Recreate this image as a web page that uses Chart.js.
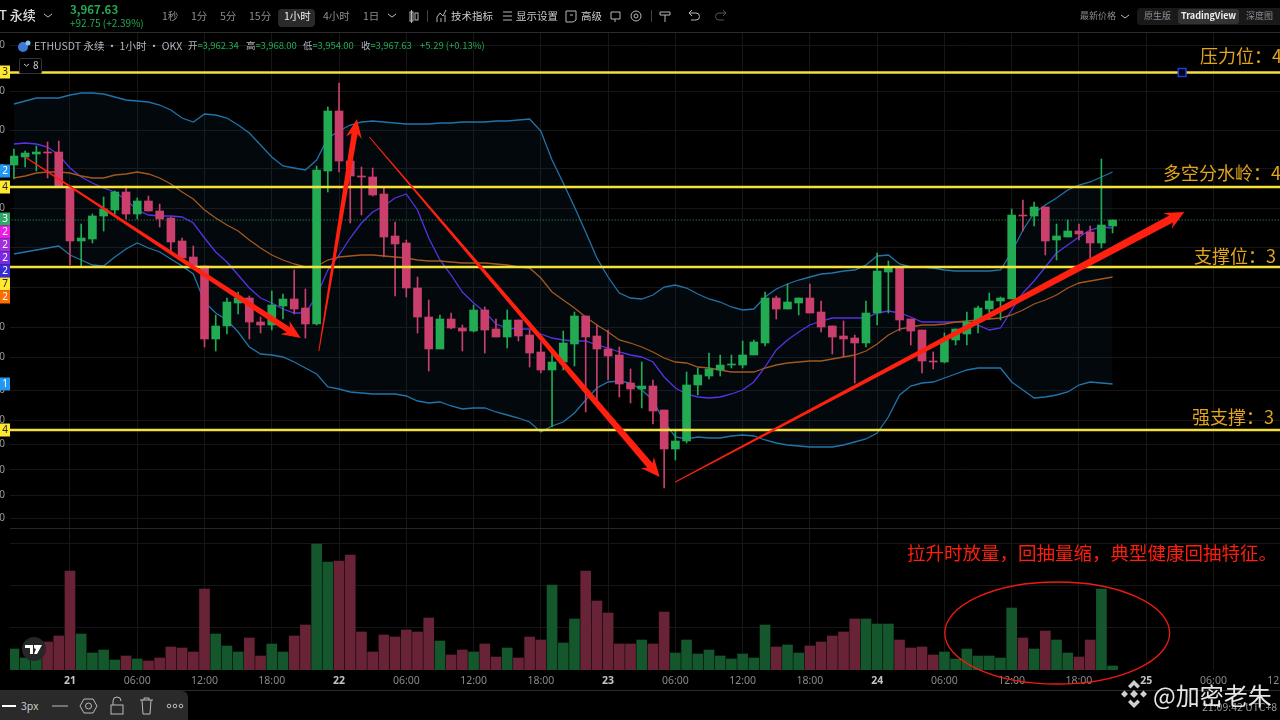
<!DOCTYPE html>
<html>
<head>
<meta charset="utf-8">
<title>ETHUSDT</title>
<script src="https://cdn.jsdelivr.net/npm/chart.js@4/dist/chart.umd.min.js"></script>
<style>
html,body{margin:0;padding:0;width:1280px;height:720px;overflow:hidden;background:#000}
body{position:relative;font-family:"Noto Sans CJK SC","Noto Sans",sans-serif;color:#b2b5be}
canvas{position:absolute;left:0;top:0}
.t{position:absolute;white-space:nowrap;transform:translateY(-50%);font-size:10.5px;line-height:1.2}
.g{color:#22ab53}
.dim{color:#8b8e96}
.note{font-size:18px;color:#e2a51b}
.box{position:absolute}
svg{position:absolute;overflow:visible}
</style>
</head>
<body>
<canvas id="chart" width="1290" height="720"></canvas>

<!-- top toolbar -->
<div class="box" style="left:0;top:32px;width:1280px;height:1px;background:#2b2b2b"></div>
<div class="box" style="left:0;top:690px;width:1280px;height:1px;background:#2b2b2b"></div>
<span class="t" style="left:-1px;top:15px;font-size:13px;color:#ddd;font-weight:500">T 永续</span>
<span class="t g" style="left:70px;top:10px;font-size:11.5px;font-weight:700">3,967.63</span>
<span class="t g" style="left:70px;top:23px;font-size:10px">+92.75 (+2.39%)</span>
<span class="t dim" style="left:162px;top:16px">1秒</span>
<span class="t dim" style="left:191px;top:16px">1分</span>
<span class="t dim" style="left:220px;top:16px">5分</span>
<span class="t dim" style="left:249px;top:16px">15分</span>
<div class="box" style="left:278px;top:9px;width:37px;height:14px;padding:2px 0;border-radius:4px;background:#2a2a2a"></div>
<span class="t" style="left:284px;top:16px;color:#eee">1小时</span>
<span class="t dim" style="left:323px;top:16px">4小时</span>
<span class="t dim" style="left:363px;top:16px">1日</span>
<span class="t" style="left:451px;top:16px;color:#ccc">技术指标</span>
<span class="t" style="left:516px;top:16px;color:#ccc">显示设置</span>
<span class="t" style="left:581px;top:16px;color:#ccc">高级</span>
<span class="t dim" style="left:1080px;top:16px;font-size:9px">最新价格</span>
<div class="box" style="left:1137px;top:8px;width:143px;height:17px;border-radius:4px 0 0 4px;background:#191919"></div>
<div class="box" style="left:1178px;top:9px;width:61px;height:15px;border-radius:3px;background:#333"></div>
<span class="t dim" style="left:1144px;top:16px;font-size:9px">原生版</span>
<span class="t" style="left:1181px;top:16px;font-size:9px;color:#eee;font-weight:700">TradingView</span>
<span class="t dim" style="left:1246px;top:16px;font-size:9px">深度图</span>
<svg style="left:0;top:0" width="1280" height="32" fill="none" stroke="#b8b8b8" stroke-width="1">
  <path d="M44 14l4 3 4-3M388 14l4 3 4-3M1121 15l4 3 4-3"/>
  <rect x="410" y="12" width="3" height="9"/><rect x="415" y="13" width="3" height="7"/><path d="M411.500 10v13"/>
  <path d="M427.500 10v12M651.500 10v12" stroke="#444"/>
  <path d="M437 22v-5l3-4 3 3 3-6M441 22v-4M445 22v-7"/>
  <path d="M503 12h9M503 16h9M503 20h9"/>
  <path d="M566 11h10v9l-3 2h-7zM570 15h3"/>
  <path d="M611 12h9v7h-9zM615 19v3"/>
  <circle cx="636" cy="16" r="5"/><circle cx="636" cy="16" r="2"/>
  <path d="M660 12h10v3h-10zM665 15v7"/>
  <path d="M690 13h6a3 3 0 0 1 0 7h-5M692 10l-3 3 3 3"/>
  <path d="M725 13h-6a3 3 0 0 0 0 7h5M723 10l3 3-3 3" stroke="#555"/>
</svg>

<!-- legend row -->
<svg style="left:17px;top:40px" width="14" height="14"><circle cx="6" cy="7" r="5" fill="#3f78d8"/><circle cx="11" cy="3" r="2.500" fill="#7fc8f0"/></svg>
<span class="t" style="left:34px;top:46px;font-size:10.500px;color:#b2b5be">ETHUSDT 永续 · 1小时 · OKX</span>
<span class="t" style="left:188px;top:46px;font-size:9.500px;letter-spacing:-.1px">开<span class="g">=3,962.34</span></span>
<span class="t" style="left:246px;top:46px;font-size:9.500px;letter-spacing:-.1px">高<span class="g">=3,968.00</span></span>
<span class="t" style="left:303px;top:46px;font-size:9.500px;letter-spacing:-.1px">低<span class="g">=3,954.00</span></span>
<span class="t" style="left:361px;top:46px;font-size:9.500px;letter-spacing:-.1px">收<span class="g">=3,967.63</span></span>
<span class="t g" style="left:420px;top:46px;font-size:9.500px">+5.29 (+0.13%)</span>
<div class="box" style="left:19px;top:58px;width:21px;height:14px;border:1px solid #333;border-radius:2px;background:#000"></div>
<span class="t" style="left:33px;top:65px;font-size:10px;color:#ccc">8</span>
<svg style="left:0;top:0" width="40" height="72" fill="none" stroke="#ccc"><path d="M24 64l2.500 2 2.500-2"/></svg>

<!-- notes on the chart -->
<span class="t note" style="left:1200px;top:56px">压力位：4</span>
<span class="t note" style="left:1163px;top:173px">多空分水岭：4</span>
<span class="t note" style="left:1194px;top:256px">支撑位：3</span>
<span class="t note" style="left:1192px;top:417px">强支撑：3</span>
<span class="t" style="left:907px;top:552px;font-size:18.500px;color:#ff1d0d">拉升时放量，回抽量缩，典型健康回抽特征。</span>

<!-- tradingview badge -->
<div class="box" style="left:22px;top:637px;width:24px;height:24px;border-radius:12px;background:#262626"></div>
<svg style="left:25px;top:645px" width="18" height="10" fill="#fff"><path d="M0 0h8v9h-3v-6h-5zM9 0h8l-5 9h-3l2-5a2 2 0 0 1-2-2z"/></svg>

<!-- bottom drawing toolbar -->
<div class="box" style="left:0;top:691px;width:188px;height:29px;border-radius:0 6px 0 0;background:#2a2a2a"></div>
<span class="t" style="left:21px;top:706px;font-size:10.500px;color:#ccc">3px</span>
<svg style="left:0;top:691px" width="188" height="29" fill="none" stroke="#bbb" stroke-width="1">
  <path d="M2 15h14" stroke="#fff" stroke-width="2"/>
  <path d="M52 15h16"/>
  <path d="M84 8h9l4 7-4 7h-9l-4-7z"/><circle cx="88.500" cy="15" r="3"/>
  <rect x="111" y="14" width="12" height="9"/><path d="M113 14v-4a4 4 0 0 1 8 0"/>
  <path d="M140 9h13M142 9l1 14h7l1-14M144 9v-2h5v2"/>
  <circle cx="169" cy="15" r="1.800"/><circle cx="175" cy="15" r="1.800"/><circle cx="181" cy="15" r="1.800"/>
</svg>

<!-- timestamp and watermark -->
<span class="t" style="left:1202px;top:707px;font-size:10.500px;color:#999">21:09:42 UTC+8</span>
<svg style="left:1120px;top:680px" width="28" height="28" fill="#cfcfcf">
  <path d="M14 0l6 6-2.500 2.500L14 5l-3.500 3.500L8 6zM14 28l6-6-2.500-2.500L14 23l-3.500-3.500L8 22zM1 14l3.500-3.500L8 14l-3.500 3.500zM20 14l3.500-3.500L27 14l-3.500 3.500zM14 10l4 4-4 4-4-4z"/>
</svg>
<span class="t" style="left:1153px;top:695px;font-size:24px;color:#e6e6e6">@加密老朱</span>

<script>
// hourly candles, first one is 20th 19:00
const opens = [4023,4031,4034,4036,4036,4001,3947,3949,3972,3978,3996,3974,3987,3977,3970,3947,3931,3922,3849,3862,3885,3890,3866,3863,3882,3889,3880,3864,4017,4077,
  4027,4012,4011,3994,3952,3945,3900,3871,3839,3869,3860,3857,3878,3859,3851,3868,3853,3836,3818,3826,3844,3872,3852,3839,3833,3805,3799,3802,3778,3739,
  3747,3803,3812,3818,3823,3823,3833,3845,3890,3879,3885,3890,3876,3862,3852,3850,3845,3875,3916,3921,3869,3858,3827,3826,3848,3854,3866,3879,3887,3889,
  3973,3972,3981,3948,3951,3957,3956,3945,3962];
const closes = [4032,4035,4036,4035,4001,3947,3950,3972,3979,3996,3974,3987,3977,3969,3946,3930,3922,3849,3862,3886,3890,3866,3863,3883,3889,3879,3864,4018,4077,4027,
  4012,4011,3993,3951,3944,3900,3871,3839,3869,3860,3857,3878,3858,3851,3868,3852,3835,3818,3826,3845,3872,3851,3839,3832,3804,3799,3802,3777,3739,3747,
  3803,3813,3819,3823,3824,3833,3846,3890,3879,3886,3890,3875,3861,3851,3849,3845,3875,3917,3920,3868,3857,3827,3826,3848,3859,3866,3880,3887,3890,3973,
  3972,3981,3947,3952,3957,3954,3945,3963,3968];
const highs = [4039,4037,4042,4046,4047,4001,3964,3974,3991,3997,4002,3990,3992,3984,3971,3950,3942,3922,3873,3890,3896,3892,3871,3897,3894,3918,3899,4022,4081,4105,
  4027,4021,4020,4000,3966,3948,3911,3888,3873,3875,3863,3883,3881,3869,3878,3868,3858,3846,3836,3857,3876,3872,3863,3858,3841,3819,3826,3808,3778,3758,
  3816,3820,3835,3833,3833,3847,3848,3896,3892,3904,3890,3904,3887,3862,3867,3853,3887,3935,3927,3921,3869,3858,3836,3855,3859,3876,3882,3895,3891,3979,
  3988,3986,3981,3964,3968,3964,3962,4029,3968];
const lows = [4009,4021,4017,4010,4001,3923,3921,3945,3957,3974,3969,3969,3977,3961,3936,3930,3922,3841,3837,3854,3874,3849,3855,3858,3869,3874,3850,3863,3996,4016,
  3965,3973,3992,3931,3892,3891,3855,3817,3839,3859,3837,3856,3835,3851,3840,3847,3821,3815,3761,3818,3822,3776,3788,3808,3791,3785,3780,3764,3700,3728,
  3745,3793,3809,3812,3820,3820,3833,3842,3869,3879,3873,3875,3856,3834,3831,3805,3841,3863,3875,3857,3843,3815,3819,3825,3843,3843,3855,3869,3868,3889,
  3957,3962,3933,3928,3951,3948,3930,3940,3955];
const volumes = [21,12,13,28,34,99,36,17,20,10,14,11,9,12,23,22,18,81,36,24,18,32,14,26,18,34,45,126,108,109,
  115,38,18,35,33,40,38,52,29,15,20,18,26,13,22,12,33,30,85,27,51,99,69,57,26,26,30,26,58,17,
  30,16,20,14,11,16,12,45,23,25,17,24,28,34,38,51,51,46,46,30,22,23,15,18,11,21,14,14,12,62,
  32,21,39,30,17,13,30,81,4];

// bollinger bands and the fast average
const bollUpper = [4084,4087,4090,4090,4090,4093,4095,4095,4094,4091,4088,4087,4086,4083,4078,4070,4066,4074,4073,4070,4063,4055,4043,4031,4022,4020,4018,4028,4050,4057,
  4063,4066,4067,4066,4065,4064,4064,4064,4065,4065,4066,4066,4066,4067,4067,4068,4069,4057,4028,4005,3981,3956,3930,3911,3895,3890,3889,3893,3901,3903,
  3900,3894,3889,3886,3881,3878,3879,3891,3899,3904,3908,3911,3914,3915,3917,3918,3923,3932,3933,3924,3921,3921,3920,3918,3917,3917,3917,3917,3918,3936,
  3958,3975,3983,3990,3998,4003,4006,4011,4016];
const bollMid = [4010,4012,4015,4016,4016,4015,4012,4010,4010,4013,4014,4016,4014,4010,4004,3996,3989,3978,3970,3963,3957,3948,3940,3933,3928,3924,3921,3922,3928,3931,
  3932,3933,3933,3932,3931,3930,3928,3927,3927,3926,3925,3925,3925,3924,3923,3921,3920,3910,3896,3888,3880,3871,3863,3856,3848,3845,3841,3836,3830,3826,
  3825,3821,3820,3818,3816,3816,3816,3820,3823,3825,3826,3827,3827,3829,3831,3833,3837,3844,3853,3859,3861,3863,3863,3864,3866,3867,3868,3869,3870,3873,
  3878,3884,3888,3893,3900,3905,3907,3909,3911];
const bollLower = [3934,3936,3938,3940,3942,3933,3928,3923,3922,3931,3939,3945,3940,3936,3929,3922,3914,3886,3875,3868,3856,3841,3834,3833,3831,3826,3820,3814,3801,3799,
  3796,3795,3794,3794,3794,3792,3787,3785,3786,3782,3779,3780,3780,3776,3773,3770,3766,3756,3762,3766,3775,3788,3800,3806,3807,3805,3798,3788,3766,3751,
  3749,3751,3750,3750,3752,3753,3752,3748,3745,3743,3742,3741,3741,3741,3743,3746,3749,3755,3771,3793,3802,3805,3806,3810,3814,3818,3820,3820,3820,3806,
  3798,3790,3791,3793,3796,3803,3806,3805,3804];
const fastAvg = [4044,4045,4044,4041,4033,4020,4011,4005,4000,3996,3988,3978,3973,3972,3972,3971,3965,3950,3936,3926,3913,3900,3890,3885,3879,3875,3875,3892,3918,3933,
  3950,3965,3976,3982,3990,3994,3978,3950,3928,3913,3896,3885,3876,3864,3860,3859,3859,3854,3850,3848,3847,3847,3843,3840,3836,3833,3831,3826,3811,3800,
  3794,3791,3790,3791,3794,3798,3806,3821,3838,3848,3856,3863,3867,3870,3870,3870,3870,3875,3877,3875,3871,3866,3866,3866,3866,3866,3863,3858,3860,3878,
  3895,3907,3921,3935,3943,3951,3958,3961,3960];

// drawn levels and the last price
const levelPrices = [4115.5,4001,3921,3758];
const lastPrice = 3968;
const handleSlot = 104.2;

// time axis
const timeSlots = [5,11,17,23,29,35,41,47,53,59,65,71,77,83,89,95,101,107,113];
const timeLabels = ['21','06:00','12:00','18:00','22','06:00','12:00','18:00','23','06:00','12:00','18:00','24','06:00','12:00','18:00','25','06:00','12:00'];
const dayLabels = ['21','22','23','24','25'];

// price axis, its labels are cut off by the screenshot
const priceTicks = [4143,4097,4058,4019,3980,3941,3901,3861,3831,3798,3768,3744,3718,3693,3670];
const priceTickLabels = ['0','0','0','0','0','0','0','0','0','0','0','0','0','0','0'];
const paneEdge = 3660;
const volumeTicks = [3645,3603,3561];

// price tags on the left edge
const tagPrices = [4116,4017,4001,3969,3956,3943,3930,3917,3904,3891,3804,3758];
const tagTexts = ['3','2','4','3','2','2','2','2','7','2','1','4'];
const tagColors = ['#ffe930','#2196f3','#ffe930','#2fa86a','#e91ee3','#a32ee0','#7a2be0','#3a2bd8','#ffe930','#ff6d00','#2196f3','#ffe930'];

// hand drawn arrows
const arrowTailSlot = [1,27.2,31.7,59];
const arrowTailPrice = [4031,3837,4051,3706];
const arrowTipSlot = [25.6,30.6,57.6,104.4];
const arrowTipPrice = [3850,4069,3711,3976];
const arrowWidth = [6,6,7,8];

// volume ellipse
const ringSlot = 93.06, ringVolume = 37, ringSlotRadius = 10.03, ringVolumeRadius = 51;

const GREEN = '#22ab53', RED = '#cb3f6c';
const slots = opens.map((_, i) => i);
const isUp = i => closes[i] >= opens[i];
const series = arr => arr.map((v, i) => ({ x: i, y: v }));
const lineStyle = color => ({ type: 'line', borderColor: color, borderWidth: 1.3, pointRadius: 0, tension: 0, order: 8 });
const isDay = c => !!c.tick && dayLabels.includes(timeLabels[timeSlots.indexOf(c.tick.value)]);

const datasets = [
  { ...lineStyle('#2273aa'), data: series(bollUpper), fill: '+1', backgroundColor: 'rgba(33,150,243,0.05)' },
  { ...lineStyle('#2273aa'), data: series(bollLower) },
  { ...lineStyle('#aa5514'), data: series(bollMid) },
  { ...lineStyle('#5a2de6'), data: series(fastAvg) },
  {
    type: 'bar', yAxisID: 'vol', order: 9, grouped: false, barThickness: 10,
    data: series(volumes),
    backgroundColor: slots.map(i => isUp(i) ? '#14572c' : '#692337')
  },
  {
    type: 'bar', order: 5, grouped: false, barThickness: 1,
    data: slots.map(i => ({ x: i, y: [lows[i], highs[i]] })),
    backgroundColor: slots.map(i => isUp(i) ? GREEN : RED)
  },
  {
    type: 'bar', order: 4, grouped: false, barThickness: 8,
    data: slots.map(i => ({ x: i, y: [opens[i], closes[i]] })),
    backgroundColor: slots.map(i => isUp(i) ? GREEN : RED)
  },
  {
    type: 'line', order: 3, borderColor: GREEN, borderWidth: 1, borderDash: [1, 2], pointRadius: 0,
    data: [{ x: -1, y: lastPrice }, { x: 114, y: lastPrice }]
  }
];

levelPrices.forEach(p => {
  datasets.push({
    type: 'line', order: 2, borderColor: '#f5e13c', borderWidth: 2.4, pointRadius: 0,
    data: [{ x: -1, y: p }, { x: 114, y: p }]
  });
});

datasets.push({
  type: 'line', order: 1, showLine: false, pointStyle: 'rect', pointRadius: 5.5,
  pointBorderColor: '#2536e0', pointBorderWidth: 1.5, pointBackgroundColor: '#050518',
  data: [{ x: handleSlot, y: levelPrices[0] }]
});

const drawings = {
  id: 'drawings',
  afterDraw(chart) {
    const { ctx, scales: { x, y, vol } } = chart;
    ctx.save();

    // arrows get wider towards the tip
    ctx.fillStyle = '#ff2010';
    arrowTailSlot.forEach((_, i) => {
      const x0 = x.getPixelForValue(arrowTailSlot[i]), y0 = y.getPixelForValue(arrowTailPrice[i]);
      const x1 = x.getPixelForValue(arrowTipSlot[i]), y1 = y.getPixelForValue(arrowTipPrice[i]);
      const a = Math.atan2(y1 - y0, x1 - x0);
      const len = Math.hypot(x1 - x0, y1 - y0);
      const w = arrowWidth[i];
      ctx.save();
      ctx.translate(x0, y0);
      ctx.rotate(a);
      ctx.beginPath();
      ctx.moveTo(0, -0.5);
      ctx.lineTo(len - 15, -w / 2);
      ctx.lineTo(len - 19, -w / 2 - 5);
      ctx.lineTo(len, 0);
      ctx.lineTo(len - 19, w / 2 + 5);
      ctx.lineTo(len - 15, w / 2);
      ctx.lineTo(0, 0.5);
      ctx.closePath();
      ctx.fill();
      ctx.restore();
    });

    // ring around the last volume bars
    ctx.strokeStyle = '#f01a10';
    ctx.lineWidth = 1.3;
    ctx.beginPath();
    ctx.ellipse(
      x.getPixelForValue(ringSlot), vol.getPixelForValue(ringVolume),
      x.getPixelForValue(ringSlot + ringSlotRadius) - x.getPixelForValue(ringSlot),
      vol.getPixelForValue(0) - vol.getPixelForValue(ringVolumeRadius),
      0, 0, Math.PI * 2
    );
    ctx.stroke();

    // price tags
    ctx.font = '10px "Noto Sans", sans-serif';
    ctx.textAlign = 'right';
    ctx.textBaseline = 'middle';
    tagPrices.forEach((p, i) => {
      const py = y.getPixelForValue(p);
      ctx.fillStyle = tagColors[i];
      ctx.fillRect(0, py - 6.5, 10, 13);
      ctx.fillStyle = tagColors[i] === '#ffe930' ? '#222' : '#fff';
      ctx.fillText(tagTexts[i], 8, py);
    });
    ctx.restore();
  }
};

new Chart(document.getElementById('chart'), {
  data: { datasets },
  plugins: [drawings],
  options: {
    responsive: false,
    animation: false,
    devicePixelRatio: 1,
    layout: { padding: { top: 33, left: 0, right: 0, bottom: 0 } },
    plugins: { legend: { display: false }, tooltip: { enabled: false } },
    scales: {
      x: {
        type: 'linear',
        offset: false,
        min: -0.35,
        max: 113.2,
        grid: { color: '#161616', drawTicks: false, offset: false },
        border: { display: false },
        afterBuildTicks(s) { s.ticks = timeSlots.map(v => ({ value: v })); },
        afterFit(s) { s.height = 50; s.paddingLeft = 0; s.paddingRight = 0; },
        ticks: {
          autoSkip: false,
          maxRotation: 0,
          padding: 5,
          callback: v => timeLabels[timeSlots.indexOf(v)],
          color: c => isDay(c) ? '#c4c4c4' : '#8a8a8a',
          font: c => ({
            family: '"Noto Sans", sans-serif',
            size: 10.5,
            weight: isDay(c) ? '700' : '400'
          })
        }
      },
      y: {
        min: 3518,
        max: 4155,
        grid: {
          drawTicks: false,
          color: c => c.tick && c.tick.value === paneEdge ? '#262626' : '#161616'
        },
        border: { display: false },
        afterBuildTicks(s) { s.ticks = [...priceTicks, paneEdge, ...volumeTicks].map(v => ({ value: v })); },
        afterFit(s) { s.width = 10; },
        ticks: {
          autoSkip: false,
          padding: 5,
          color: '#9a9a9a',
          font: { family: '"Noto Sans", sans-serif', size: 10 },
          callback: v => priceTickLabels[priceTicks.indexOf(v)] || ''
        }
      },
      vol: { display: false, position: 'left', min: 0, max: 637 }
    }
  }
});
</script>
</body>
</html>
